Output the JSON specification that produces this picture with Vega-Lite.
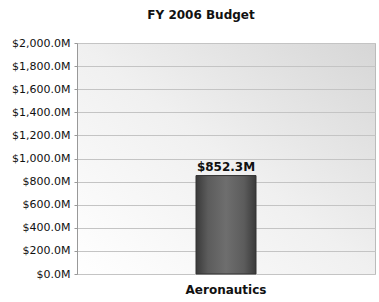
{
  "$schema": "https://vega.github.io/schema/vega-lite/v6.json",
  "width": 298,
  "height": 231,
  "autosize": "none",
  "padding": {"left": 77, "top": 43, "right": 4, "bottom": 28},
  "background": "white",
  "title": {
    "text": "FY 2006 Budget",
    "font": "DejaVu Sans",
    "fontSize": 12,
    "fontWeight": "bold",
    "color": "#111111",
    "anchor": "middle",
    "dx": -25,
    "offset": 15
  },
  "config": {
    "view": {
      "stroke": "#bbbbbb",
      "strokeWidth": 1,
      "fill": {
        "gradient": "linear",
        "x1": 0, "y1": 1, "x2": 1, "y2": 0,
        "stops": [
          {"offset": 0, "color": "#ffffff"},
          {"offset": 0.5, "color": "#f0f0f0"},
          {"offset": 1, "color": "#d6d6d6"}
        ]
      }
    },
    "axis": {"labelFont": "DejaVu Sans", "labelColor": "#111111"}
  },
  "data": {"values": [{"program": "Aeronautics", "budget": 852.3}]},
  "encoding": {
    "x": {
      "field": "program",
      "type": "nominal",
      "axis": {
        "title": null,
        "labelAngle": 0,
        "labelFontWeight": "bold",
        "labelFontSize": 12,
        "labelPadding": 10,
        "ticks": false,
        "domain": false
      }
    },
    "y": {
      "field": "budget",
      "type": "quantitative",
      "scale": {"domain": [0, 2000], "nice": false},
      "axis": {
        "title": null,
        "values": [0, 200, 400, 600, 800, 1000, 1200, 1400, 1600, 1800, 2000],
        "labelExpr": "'$' + format(datum.value, ',.1f') + 'M'",
        "labelFontSize": 11,
        "labelPadding": 4,
        "tickSize": 3,
        "tickColor": "#999999",
        "domainColor": "#999999",
        "gridColor": "#c4c4c4",
        "gridWidth": 1
      }
    }
  },
  "layer": [
    {
      "mark": {
        "type": "bar",
        "size": 60,
        "stroke": "#333333",
        "strokeWidth": 1,
        "color": {
          "gradient": "linear",
          "x1": 0, "y1": 0, "x2": 1, "y2": 0,
          "stops": [
            {"offset": 0, "color": "#3a3a3a"},
            {"offset": 0.2, "color": "#5c5c5c"},
            {"offset": 0.5, "color": "#6e6e6e"},
            {"offset": 0.8, "color": "#5c5c5c"},
            {"offset": 1, "color": "#3a3a3a"}
          ]
        }
      }
    },
    {
      "mark": {
        "type": "text",
        "font": "DejaVu Sans",
        "fontSize": 12,
        "fontWeight": "bold",
        "color": "#111111",
        "baseline": "bottom",
        "dy": -2,
        "text": {"expr": "'$' + format(datum.budget, ',.1f') + 'M'"}
      }
    }
  ]
}
